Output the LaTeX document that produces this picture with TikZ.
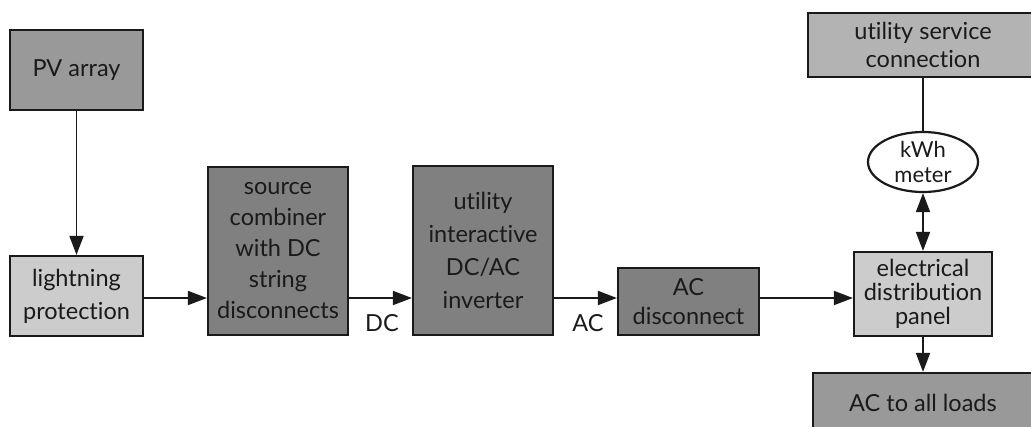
\documentclass[tikz,border=0pt]{standalone}
\usepackage{fontspec}
\setmainfont{Lato}[Ligatures=NoCommon]
\usetikzlibrary{arrows.meta,shapes.geometric}
\definecolor{gmid}{HTML}{999999}
\definecolor{glight}{HTML}{CCCCCC}
\definecolor{gdark}{HTML}{808080}
\definecolor{gutil}{HTML}{B3B3B3}
\definecolor{ink}{HTML}{1A1A1A}
\tikzset{
  box/.style={draw=ink, line width=2.2pt, rectangle, align=center, inner sep=0pt,
    font=\fontsize{23.5}{28}\selectfont, text=ink},
  flow/.style={draw=ink, line width=1.8pt, -{Triangle[length=19pt,width=14pt]}},
  plain/.style={draw=ink, line width=1.8pt},
  lbl/.style={font=\fontsize{23.5}{28}\selectfont, text=ink, inner sep=0pt}
}
\begin{document}
\begin{tikzpicture}[x=1pt,y=-1pt]
\useasboundingbox (0,0) rectangle (1031,426);
\clip (0,0) rectangle (1031,426);
\node[box, fill=gmid, minimum width=133pt, minimum height=80pt] (pv) at (76.5,70) {PV array};
\node[box, fill=glight, minimum width=133pt, minimum height=80pt, font=\fontsize{23.5}{33}\selectfont] (light) at (76.5,296) {lightning\\protection};
\node[box, fill=gdark, minimum width=140pt, minimum height=168pt, font=\fontsize{23.5}{31}\selectfont] (comb) at (278,251) {source\\combiner\\with DC\\string\\disconnects};
\node[box, fill=gdark, minimum width=140pt, minimum height=169pt, font=\fontsize{23.5}{33}\selectfont] (inv) at (483,250.5) {utility\\interactive\\DC/AC\\inverter};
\node[box, fill=gdark, minimum width=141pt, minimum height=67pt, font=\fontsize{23.5}{29}\selectfont] (acd) at (688.5,301.5) {AC\\disconnect};
\node[box, fill=glight, minimum width=138pt, minimum height=84pt, font=\fontsize{23.5}{24}\selectfont] (panel) at (923,294) {electrical\\distribution\\panel};
\node[box, fill=gmid, minimum width=220pt, minimum height=60pt] (loads) at (923,403) {AC to all loads};
\node[box, fill=gutil, minimum width=230pt, minimum height=64pt] (util) at (923,45) {utility service\\connection};
\node[box, fill=white, ellipse, minimum width=110pt, minimum height=60pt, font=\fontsize{22}{25}\selectfont] (meter) at (923,162) {kWh\\meter};
\coordinate (row) at (0,298);
\node[lbl] (dc) at (382,323) {DC};
\node[lbl] (ac) at (588,323) {AC};
\draw[flow] (pv.south) -- (light.north);
\draw[flow] (light.east |- row) -- (comb.west |- row);
\draw[flow] (comb.east |- row) -- (inv.west |- row);
\draw[flow] (inv.east |- row) -- (acd.west |- row);
\draw[flow] (acd.east |- row) -- (panel.west |- row);
\draw[plain] (util.south) -- (meter.north);
\draw[flow, {Triangle[length=19pt,width=14pt]}-{Triangle[length=19pt,width=14pt]}] (meter.south) -- (panel.north);
\draw[flow] (panel.south) -- (loads.north);
\end{tikzpicture}
\end{document}
